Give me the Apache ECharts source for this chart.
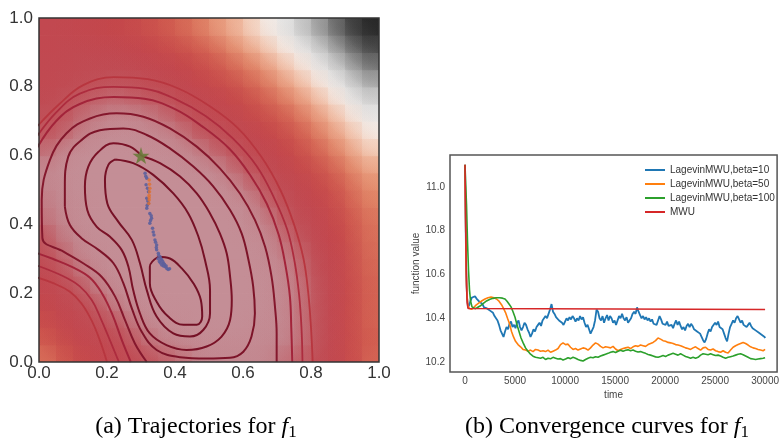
<!DOCTYPE html>
<html>
<head>
<meta charset="utf-8">
<script src="https://cdn.jsdelivr.net/npm/echarts@6/dist/echarts.min.js"></script>
<style>
html, body { margin: 0; padding: 0; background: #fff; }
#chart { width: 782px; height: 443px; }
</style>
</head>
<body>
<div id="chart"></div>
<script type="text/javascript">
// ---- left panel: level of f1 on a 20x20 grid (cell centres), rows from y=0.025 up to y=0.975
var cellCenters = [0.025, 0.075, 0.125, 0.175, 0.225, 0.275, 0.325, 0.375, 0.425, 0.475,
	0.525, 0.575, 0.625, 0.675, 0.725, 0.775, 0.825, 0.875, 0.925, 0.975];
var levelRows = [
	[4.4, 3.8, 3.2, 2.7, 2.3, 1.9, 1.6, 1.4, 1.2, 1.0, 0.9, 0.9, 0.9, 1.0, 1.2, 1.4, 1.9, 2.6, 3.3, 4.2],
	[3.8, 3.2, 2.7, 2.3, 1.9, 1.5, 1.2, 1.0, 0.8, 0.7, 0.7, 0.7, 0.7, 0.8, 1.0, 1.2, 1.8, 2.5, 3.3, 4.1],
	[3.3, 2.7, 2.3, 1.8, 1.5, 1.2, 0.9, 0.7, 0.6, 0.5, 0.4, 0.5, 0.6, 0.7, 0.9, 1.2, 1.8, 2.5, 3.3, 4.2],
	[2.8, 2.3, 1.9, 1.5, 1.1, 0.8, 0.6, 0.4, 0.3, 0.3, 0.3, 0.3, 0.5, 0.6, 0.9, 1.2, 1.8, 2.5, 3.3, 4.2],
	[2.4, 1.9, 1.5, 1.1, 0.8, 0.6, 0.4, 0.3, 0.2, 0.1, 0.2, 0.3, 0.4, 0.6, 0.9, 1.2, 1.8, 2.5, 3.3, 4.2],
	[2.0, 1.6, 1.2, 0.9, 0.6, 0.4, 0.2, 0.1, 0.1, 0.1, 0.1, 0.2, 0.4, 0.7, 0.9, 1.3, 1.9, 2.6, 3.4, 4.3],
	[1.7, 1.3, 1.0, 0.7, 0.4, 0.2, 0.1, 0.0, 0.0, 0.0, 0.1, 0.3, 0.5, 0.8, 1.1, 1.4, 2.0, 2.7, 3.5, 4.4],
	[1.5, 1.1, 0.8, 0.5, 0.3, 0.2, 0.1, 0.0, 0.0, 0.1, 0.2, 0.4, 0.6, 0.9, 1.3, 1.7, 2.2, 2.9, 3.7, 4.5],
	[1.2, 0.9, 0.6, 0.4, 0.2, 0.1, 0.1, 0.0, 0.1, 0.2, 0.3, 0.5, 0.8, 1.1, 1.5, 1.9, 2.4, 3.2, 3.9, 4.6],
	[1.1, 0.8, 0.6, 0.4, 0.2, 0.1, 0.1, 0.1, 0.2, 0.3, 0.5, 0.7, 1.0, 1.4, 1.8, 2.3, 2.8, 3.4, 4.2, 4.9],
	[1.0, 0.7, 0.5, 0.4, 0.3, 0.2, 0.2, 0.3, 0.4, 0.5, 0.7, 1.0, 1.3, 1.7, 2.1, 2.6, 3.2, 3.8, 4.5, 5.2],
	[1.0, 0.7, 0.5, 0.4, 0.3, 0.3, 0.4, 0.4, 0.6, 0.8, 1.0, 1.3, 1.7, 2.1, 2.6, 3.1, 3.7, 4.3, 5.0, 5.7],
	[1.3, 1.0, 0.6, 0.5, 0.5, 0.5, 0.6, 0.7, 0.9, 1.1, 1.4, 1.7, 2.1, 2.5, 3.0, 3.6, 4.2, 4.9, 5.6, 6.4],
	[1.6, 1.4, 1.1, 0.8, 0.7, 0.7, 0.8, 1.0, 1.2, 1.5, 1.8, 2.1, 2.5, 3.0, 3.5, 4.1, 4.8, 5.5, 6.2, 7.0],
	[1.8, 1.6, 1.3, 1.1, 1.0, 1.0, 1.1, 1.3, 1.6, 1.9, 2.2, 2.6, 3.1, 3.6, 4.1, 4.7, 5.4, 6.1, 6.9, 7.8],
	[2.0, 1.8, 1.6, 1.4, 1.3, 1.4, 1.5, 1.7, 2.0, 2.3, 2.7, 3.1, 3.6, 4.2, 4.8, 5.4, 6.1, 6.9, 7.7, 8.5],
	[2.2, 2.0, 1.9, 1.8, 1.7, 1.7, 1.9, 2.2, 2.5, 2.9, 3.3, 3.7, 4.3, 4.8, 5.5, 6.1, 6.9, 7.6, 8.5, 9.4],
	[2.3, 2.2, 2.1, 2.1, 2.1, 2.2, 2.4, 2.7, 3.0, 3.4, 3.9, 4.4, 4.9, 5.5, 6.2, 6.9, 7.7, 8.5, 9.4, 10.3],
	[2.4, 2.3, 2.3, 2.4, 2.5, 2.7, 2.9, 3.3, 3.6, 4.1, 4.5, 5.1, 5.7, 6.3, 7.0, 7.7, 8.5, 9.4, 10.3, 11.2],
	[2.5, 2.6, 2.7, 2.8, 3.0, 3.2, 3.5, 3.9, 4.3, 4.7, 5.3, 5.8, 6.4, 7.1, 7.8, 8.6, 9.4, 10.3, 11.3, 12.3]
];
var cellSize = 0.05;
// colour of the level field, one stop every 0.5 from 0 to 12
var levelColors = ['#c48e96', '#c48e96', '#c3868e', '#c0565e', '#c04a52', '#c24850', '#c4464a', '#ca504c',
	'#d05a4e', '#d9705a', '#e28868', '#e9a082', '#f0b89c', '#f4d4c2', '#f6ece6', '#ececec', '#e2e2e2',
	'#cccccc', '#b6b6b6', '#9a9a9a', '#7c7c7c', '#636363', '#4a4a4a', '#383838', '#262626'];

// contour lines (innermost first)
var contour1 = [[0.351,0.306],[0.385,0.301],[0.420,0.272],[0.454,0.229],[0.476,0.180],[0.480,0.132],[0.464,0.108],
	[0.425,0.108],[0.380,0.132],[0.346,0.175],[0.326,0.229],[0.326,0.277],[0.351,0.306]];
var contour2 = [[0.224,0.589],[0.277,0.578],[0.336,0.544],[0.395,0.490],[0.439,0.432],[0.469,0.364],[0.488,0.297],
	[0.503,0.209],[0.503,0.141],[0.483,0.093],[0.444,0.074],[0.395,0.083],[0.346,0.132],[0.317,0.209],[0.297,0.287],
	[0.273,0.355],[0.233,0.408],[0.201,0.461],[0.194,0.529],[0.204,0.573],[0.224,0.589]];
var contour3 = [[0.302,0.599],[0.356,0.578],[0.415,0.539],[0.464,0.490],[0.503,0.432],[0.532,0.374],[0.552,0.316],
	[0.562,0.248],[0.567,0.180],[0.562,0.122],[0.537,0.074],[0.493,0.045],[0.434,0.035],[0.375,0.049],[0.326,0.083],
	[0.297,0.141],[0.277,0.209],[0.263,0.277],[0.243,0.326],[0.209,0.364],[0.170,0.393],[0.142,0.442],[0.135,0.510],
	[0.145,0.568],[0.175,0.611],[0.219,0.636],[0.268,0.626],[0.302,0.599]];
var contour4 = [[0.076,0.452],[0.076,0.510],[0.086,0.597],[0.125,0.645],[0.179,0.674],[0.248,0.679],[0.317,0.660],
	[0.385,0.621],[0.454,0.568],[0.513,0.510],[0.562,0.442],[0.596,0.374],[0.616,0.297],[0.630,0.219],[0.635,0.141],
	[0.625,0.074],[0.601,0.030],[0.562,0.012],[0.493,0.010],[0.415,0.014],[0.346,0.035],[0.302,0.088],[0.273,0.156],
	[0.248,0.229],[0.219,0.287],[0.175,0.326],[0.125,0.360],[0.091,0.398],[0.076,0.452]];
var contour5 = [[0.317,0.0],[0.282,0.054],[0.253,0.122],[0.224,0.190],[0.184,0.248],[0.130,0.287],[0.072,0.321],
	[0.010,0.360],[0.008,0.471],[0.032,0.587],[0.081,0.665],[0.150,0.708],[0.228,0.723],[0.307,0.713],[0.385,0.679],
	[0.464,0.626],[0.532,0.563],[0.591,0.490],[0.635,0.413],[0.665,0.335],[0.684,0.248],[0.694,0.161],[0.699,0.083],
	[0.699,0.0]];
var contour6 = [[0.270,0.0],[0.245,0.060],[0.215,0.140],[0.185,0.200],[0.150,0.245],[0.100,0.275],[0.040,0.300],
	[-0.01,0.318]];
var contour6b = [[-0.01,0.615],[0.050,0.700],[0.120,0.750],[0.220,0.770],[0.310,0.765],[0.400,0.735],[0.480,0.685],
	[0.560,0.620],[0.620,0.545],[0.670,0.460],[0.705,0.370],[0.725,0.280],[0.738,0.190],[0.742,0.100],[0.745,0.0]];
var contour7 = [[0.235,0.0],[0.210,0.060],[0.180,0.130],[0.155,0.180],[0.120,0.220],[0.070,0.250],[-0.01,0.282]];
var contour7b = [[-0.01,0.650],[0.050,0.725],[0.120,0.780],[0.220,0.800],[0.310,0.795],[0.400,0.765],[0.490,0.715],
	[0.570,0.650],[0.640,0.570],[0.690,0.480],[0.730,0.385],[0.752,0.290],[0.765,0.195],[0.772,0.100],[0.775,0.0]];
var contour8 = [[0.200,0.0],[0.180,0.060],[0.155,0.120],[0.125,0.170],[0.090,0.205],[0.040,0.230],[-0.01,0.247]];
var contour8b = [[-0.01,0.680],[0.060,0.750],[0.130,0.805],[0.220,0.828],[0.320,0.822],[0.410,0.795],[0.500,0.745],
	[0.585,0.680],[0.655,0.595],[0.710,0.500],[0.750,0.400],[0.778,0.300],[0.792,0.200],[0.800,0.100],[0.805,0.0]];

var trailBeta10 = [[0.312,0.549],[0.317,0.534],[0.315,0.515],[0.322,0.495],[0.317,0.476],[0.322,0.461],[0.317,0.447],
	[0.326,0.432],[0.331,0.418],[0.326,0.403],[0.334,0.389],[0.338,0.369],[0.341,0.355],[0.346,0.340],[0.346,0.326],
	[0.351,0.316],[0.356,0.306],[0.361,0.297],[0.366,0.287],[0.371,0.277],[0.376,0.272],[0.354,0.292],[0.361,0.282],
	[0.380,0.269],[0.358,0.300],[0.364,0.292],[0.369,0.284],[0.374,0.279],[0.350,0.300],[0.357,0.288],[0.366,0.279],
	[0.384,0.271],[0.352,0.310],[0.345,0.333],[0.330,0.425],[0.320,0.468],[0.319,0.505],[0.314,0.540],[0.318,0.455],
	[0.328,0.411],[0.336,0.378],[0.343,0.348]];
var trailBeta50 = [[0.324,0.529],[0.326,0.505],[0.324,0.485],[0.324,0.471],[0.323,0.461],[0.325,0.495],[0.325,0.517],[0.324,0.478]];
var startPoint = [[0.300, 0.600]];

// ---- right panel: convergence curves [time, function value]
var beta10 = [[0,11.10],[60,10.85],[120,10.62],[200,10.50],[300,10.45],[420,10.46],[550,10.48],[700,10.495],[850,10.50],
	[1000,10.50],[1150,10.49],[1300,10.49],[1450,10.475],[1600,10.47],[1750,10.465],[1900,10.45],[2050,10.455],[2200,10.445],
	[2350,10.45],[2500,10.435],[2650,10.43],[2800,10.425],[2950,10.41],[3100,10.405],[3250,10.39],[3400,10.37],[3550,10.345],
	[3700,10.33],[3850,10.315],[4000,10.34],[4150,10.36],[4300,10.35],[4450,10.375],[4600,10.385],[4750,10.36],[4900,10.37],
	[5050,10.355],[5200,10.38],[5350,10.39],[5500,10.36],[5650,10.345],[5800,10.36],[5950,10.38],[6100,10.37],[6250,10.35],
	[6400,10.335],[6550,10.315],[6700,10.33],[6850,10.35],[7000,10.34],[7150,10.36],[7300,10.37],[7450,10.38],[7600,10.365],
	[7750,10.39],[7900,10.40],[8050,10.41],[8200,10.40],[8350,10.42],[8500,10.44],[8650,10.465],[8800,10.43],[8950,10.42],
	[9100,10.405],[9250,10.41],[9400,10.39],[9550,10.395],[9700,10.38],[9850,10.37],[10000,10.385],[10150,10.40],[10300,10.39],
	[10450,10.405],[10600,10.395],[10750,10.41],[10900,10.40],[11050,10.385],[11200,10.40],[11350,10.39],[11500,10.41],
	[11650,10.395],[11800,10.405],[11950,10.38],[12100,10.36],[12250,10.37],[12400,10.35],[12550,10.33],[12700,10.345],
	[12850,10.36],[13000,10.39],[13150,10.44],[13300,10.43],[13450,10.40],[13600,10.39],[13750,10.41],[13900,10.38],
	[14050,10.40],[14200,10.415],[14350,10.39],[14500,10.41],[14650,10.40],[14800,10.38],[14950,10.39],[15100,10.37],
	[15250,10.39],[15400,10.41],[15550,10.40],[15700,10.42],[15850,10.40],[16000,10.39],[16150,10.405],[16300,10.38],
	[16450,10.39],[16600,10.40],[16750,10.42],[16900,10.43],[17050,10.42],[17200,10.45],[17350,10.43],[17500,10.415],
	[17650,10.40],[17800,10.41],[17950,10.395],[18100,10.405],[18250,10.39],[18400,10.40],[18550,10.385],[18700,10.395],
	[18850,10.375],[19000,10.38],[19150,10.37],[19300,10.39],[19450,10.41],[19600,10.395],[19750,10.375],[19900,10.38],
	[20050,10.37],[20200,10.385],[20350,10.365],[20500,10.36],[20650,10.37],[20800,10.355],[20950,10.375],[21100,10.39],
	[21250,10.37],[21400,10.385],[21550,10.365],[21700,10.35],[21850,10.36],[22000,10.345],[22150,10.365],[22300,10.375],
	[22450,10.36],[22600,10.375],[22750,10.365],[22900,10.35],[23050,10.355],[23200,10.34],[23350,10.335],[23500,10.33],
	[23650,10.315],[23800,10.30],[23950,10.29],[24100,10.305],[24250,10.33],[24400,10.35],[24550,10.34],[24700,10.36],
	[24850,10.365],[25000,10.38],[25150,10.37],[25300,10.385],[25450,10.36],[25600,10.355],[25750,10.35],[25900,10.33],
	[26050,10.31],[26200,10.295],[26350,10.33],[26500,10.36],[26650,10.375],[26800,10.39],[26950,10.38],[27100,10.40],
	[27250,10.41],[27400,10.395],[27550,10.38],[27700,10.39],[27850,10.37],[28000,10.375],[28150,10.36],[28300,10.37],
	[28450,10.38],[28600,10.365],[28750,10.355],[28900,10.36],[29050,10.345],[29200,10.35],[29350,10.335],[29500,10.34],
	[29650,10.325],[29800,10.33],[29950,10.315],[30000,10.31]];
var beta50 = [[0,11.10],[60,10.85],[120,10.62],[200,10.50],[300,10.455],[450,10.445],[650,10.441],[850,10.448],[1100,10.46],
	[1400,10.47],[1700,10.48],[2000,10.488],[2300,10.494],[2600,10.497],[2900,10.494],[3150,10.488],[3400,10.478],[3650,10.462],
	[3850,10.445],[4050,10.426],[4250,10.40],[4450,10.375],[4650,10.34],[4850,10.315],[5050,10.295],[5300,10.28],[5550,10.27],
	[5800,10.258],[6050,10.255],[6300,10.25],[6550,10.255],[6800,10.248],[7050,10.258],[7300,10.255],[7550,10.25],[7800,10.252],
	[8050,10.248],[8300,10.255],[8550,10.245],[8800,10.25],[9050,10.255],[9300,10.262],[9550,10.28],[9800,10.288],[10050,10.28],
	[10300,10.282],[10550,10.268],[10800,10.258],[11050,10.262],[11300,10.255],[11550,10.26],[11800,10.265],[12050,10.262],
	[12300,10.255],[12550,10.265],[12800,10.278],[13050,10.288],[13300,10.282],[13550,10.272],[13800,10.265],[14050,10.27],
	[14300,10.268],[14550,10.265],[14800,10.272],[15050,10.26],[15300,10.252],[15550,10.258],[15800,10.262],[16050,10.265],
	[16300,10.268],[16550,10.262],[16800,10.27],[17050,10.275],[17300,10.272],[17550,10.278],[17800,10.275],[18050,10.272],
	[18300,10.28],[18550,10.285],[18800,10.29],[19050,10.298],[19300,10.31],[19550,10.305],[19800,10.298],[20050,10.295],
	[20300,10.29],[20550,10.288],[20800,10.285],[21050,10.28],[21300,10.278],[21550,10.275],[21800,10.27],[22050,10.265],
	[22300,10.262],[22550,10.258],[22800,10.265],[23050,10.27],[23300,10.262],[23550,10.255],[23800,10.265],[24050,10.268],
	[24300,10.258],[24550,10.255],[24800,10.26],[25050,10.252],[25300,10.248],[25550,10.245],[25800,10.252],[26050,10.245],
	[26300,10.242],[26550,10.255],[26800,10.268],[27050,10.275],[27300,10.28],[27550,10.285],[27800,10.29],[28050,10.285],
	[28300,10.278],[28550,10.27],[28800,10.265],[29050,10.262],[29300,10.258],[29550,10.255],[29800,10.252],[30000,10.258]];
var beta100 = [[0,11.10],[80,11.0],[150,10.92],[250,10.75],[350,10.62],[450,10.53],[550,10.48],[700,10.452],[850,10.445],
	[1000,10.444],[1200,10.448],[1500,10.456],[1800,10.467],[2150,10.479],[2500,10.487],[2800,10.491],[3100,10.494],[3450,10.494],
	[3750,10.492],[4000,10.488],[4200,10.478],[4400,10.465],[4600,10.452],[4800,10.43],[5000,10.405],[5200,10.37],[5400,10.34],
	[5600,10.31],[5800,10.289],[6050,10.265],[6300,10.25],[6550,10.236],[6800,10.227],[7050,10.222],[7300,10.22],[7550,10.218],
	[7800,10.222],[8050,10.212],[8300,10.218],[8550,10.215],[8800,10.222],[9050,10.218],[9300,10.214],[9550,10.216],[9800,10.21],
	[10050,10.214],[10300,10.22],[10550,10.216],[10800,10.222],[11050,10.218],[11300,10.212],[11550,10.208],[11800,10.205],
	[12050,10.212],[12300,10.218],[12550,10.222],[12800,10.22],[13050,10.225],[13300,10.222],[13550,10.228],[13800,10.232],
	[14050,10.236],[14300,10.24],[14550,10.245],[14800,10.248],[15050,10.244],[15300,10.25],[15550,10.254],[15800,10.25],
	[16050,10.254],[16300,10.256],[16550,10.252],[16800,10.255],[17050,10.25],[17300,10.246],[17550,10.248],[17800,10.244],
	[18050,10.24],[18300,10.235],[18550,10.232],[18800,10.228],[19050,10.224],[19300,10.222],[19550,10.226],[19800,10.23],
	[20050,10.226],[20300,10.232],[20550,10.236],[20800,10.24],[21050,10.236],[21300,10.232],[21550,10.238],[21800,10.232],
	[22050,10.226],[22300,10.222],[22550,10.218],[22800,10.222],[23050,10.218],[23300,10.222],[23550,10.232],[23800,10.238],
	[24050,10.236],[24300,10.234],[24550,10.238],[24800,10.234],[25050,10.23],[25300,10.232],[25550,10.228],[25800,10.222],
	[26050,10.218],[26300,10.222],[26550,10.225],[26800,10.228],[27050,10.232],[27300,10.236],[27550,10.238],[27800,10.234],
	[28050,10.228],[28300,10.222],[28550,10.216],[28800,10.214],[29050,10.212],[29300,10.214],[29550,10.216],[29800,10.218],
	[30000,10.22]];
var mwu = [[0,11.10],[50,10.90],[100,10.70],[150,10.55],[220,10.47],[300,10.445],[450,10.44],[30000,10.44]];
var seriesNames = ['LagevinMWU,beta=10', 'LagevinMWU,beta=50', 'LagevinMWU,beta=100', 'MWU'];
var seriesColors = ['#1f77b4', '#ff7f0e', '#2ca02c', '#d62728'];

var cells = [];
for (var j = 0; j < levelRows.length; j++) {
	for (var i = 0; i < levelRows[j].length; i++) {
		cells.push([cellCenters[i], cellCenters[j], levelRows[j][i]]);
	}
}

function contourSeries(data, color, width) {
	return {
		type: 'line', xAxisIndex: 0, yAxisIndex: 0, data: data, smooth: 0.4,
		showSymbol: false, silent: true, clip: true, z: 3,
		lineStyle: {color: color, width: width || 2}
	};
}

// flat cell
function renderCell(params, api) {
	var x = api.value(0), y = api.value(1);
	var p0 = api.coord([x - cellSize / 2, y + cellSize / 2]);
	var p1 = api.coord([x + cellSize / 2, y - cellSize / 2]);
	return {
		type: 'rect',
		shape: {x: p0[0], y: p0[1], width: p1[0] - p0[0] + 0.6, height: p1[1] - p0[1] + 0.6},
		style: {fill: api.visual('color')}
	};
}

// soft splat on top of the cells, so the blocks blend into each other
function renderSplat(params, api) {
	var c = api.coord([api.value(0), api.value(1)]);
	var r = api.size([cellSize, cellSize])[0] * 1.6;
	var col = api.visual('color');
	return {
		type: 'circle',
		shape: {cx: c[0], cy: c[1], r: r},
		style: {fill: new echarts.graphic.RadialGradient(0.5, 0.5, 0.5, [
			{offset: 0, color: echarts.color.modifyAlpha(col, 0.5)},
			{offset: 0.5, color: echarts.color.modifyAlpha(col, 0.25)},
			{offset: 1, color: echarts.color.modifyAlpha(col, 0)}
		])}
	};
}

var labelFont = 'Liberation Sans';
var captionRich = {
	n: {fontFamily: 'Liberation Serif', fontSize: 24, color: '#111', lineHeight: 28},
	f: {fontFamily: 'Liberation Serif', fontStyle: 'italic', fontSize: 24, color: '#111', lineHeight: 28},
	s: {fontFamily: 'Liberation Serif', fontSize: 17, color: '#111', lineHeight: 17, verticalAlign: 'bottom'}
};
var option = {
	animation: false,
	backgroundColor: '#fff',
	grid: [
		{left: 39, top: 18, width: 340, height: 344, show: true, z: 10, backgroundColor: 'transparent', borderColor: '#333', borderWidth: 1.5},
		{left: 450, top: 155, width: 328, height: 217, show: true, z: 10, backgroundColor: 'transparent', borderColor: '#555', borderWidth: 1.5}
	],
	visualMap: {
		show: false, type: 'continuous', seriesIndex: [0, 1], dimension: 2, min: 0, max: 12,
		inRange: {color: levelColors}
	},
	xAxis: [
		{gridIndex: 0, type: 'value', min: 0, max: 1, interval: 0.2,
			axisLine: {show: false}, axisTick: {show: false}, splitLine: {show: false},
			axisLabel: {fontFamily: labelFont, fontSize: 17, color: '#333', margin: 3,
				formatter: function (v) { return v.toFixed(1); }}},
		{gridIndex: 1, type: 'value', min: -1500, max: 31200,
			name: 'time', nameLocation: 'middle', nameGap: 18,
			nameTextStyle: {fontFamily: labelFont, fontSize: 10, color: '#444'},
			axisLine: {show: false}, axisTick: {show: false}, splitLine: {show: false},
			axisLabel: {fontFamily: labelFont, fontSize: 10, color: '#444', margin: 4, showMinLabel: false, showMaxLabel: false,
				formatter: function (v) { return String(v); }}}
	],
	yAxis: [
		{gridIndex: 0, type: 'value', min: 0, max: 1, interval: 0.2,
			axisLine: {show: false}, axisTick: {show: false}, splitLine: {show: false},
			axisLabel: {fontFamily: labelFont, fontSize: 17, color: '#333', margin: 6,
				formatter: function (v) { return v.toFixed(1); }}},
		{gridIndex: 1, type: 'value', min: 10.155, max: 11.145,
			name: 'function value', nameLocation: 'middle', nameGap: 27,
			nameTextStyle: {fontFamily: labelFont, fontSize: 10, color: '#444'},
			axisLine: {show: false}, axisTick: {show: false}, splitLine: {show: false},
			axisLabel: {fontFamily: labelFont, fontSize: 10, color: '#444', margin: 5, showMinLabel: false, showMaxLabel: false,
				formatter: function (v) { return v.toFixed(1); }}}
	],
	legend: {
		left: 640, top: 159, orient: 'vertical', icon: 'rect', itemWidth: 20, itemHeight: 2, itemGap: 2,
		data: seriesNames,
		textStyle: {fontFamily: labelFont, fontSize: 10, color: '#333', lineHeight: 12}
	},
	graphic: [
		{type: 'text', x: 196, y: 427, style: {
			text: '{n|(a) Trajectories for }{f|f}{s|1}', align: 'center', verticalAlign: 'middle', rich: captionRich}},
		{type: 'text', x: 607, y: 427, style: {
			text: '{n|(b) Convergence curves for }{f|f}{s|1}', align: 'center', verticalAlign: 'middle', rich: captionRich}}
	],
	series: [
		{type: 'custom', xAxisIndex: 0, yAxisIndex: 0, data: cells, silent: true, clip: true, z: 1, renderItem: renderCell},
		{type: 'custom', xAxisIndex: 0, yAxisIndex: 0, data: cells, silent: true, clip: true, z: 1.5, renderItem: renderSplat},
		contourSeries(contour8, '#b8363f', 1.8),
		contourSeries(contour8b, '#b8363f', 1.8),
		contourSeries(contour7, '#ad2c3e', 1.8),
		contourSeries(contour7b, '#ad2c3e', 1.8),
		contourSeries(contour6, '#a3243a'),
		contourSeries(contour6b, '#a3243a'),
		contourSeries(contour5, '#85182d'),
		contourSeries(contour4, '#7d1429'),
		contourSeries(contour3, '#7a1227'),
		contourSeries(contour2, '#761126'),
		contourSeries(contour1, '#731025'),
		{type: 'scatter', xAxisIndex: 0, yAxisIndex: 0, data: trailBeta10, symbolSize: 3.5, silent: true, z: 4,
			itemStyle: {color: '#5c5f9c', opacity: 0.9}},
		{type: 'scatter', xAxisIndex: 0, yAxisIndex: 0, data: trailBeta50, symbolSize: 3.5, silent: true, z: 5,
			itemStyle: {color: '#e0702e'}},
		{type: 'scatter', xAxisIndex: 0, yAxisIndex: 0, data: startPoint, silent: true, z: 6,
			symbol: 'path://M50,0 L61,35 L98,35 L68,57 L79,91 L50,70 L21,91 L32,57 L2,35 L39,35 Z', symbolSize: 17,
			itemStyle: {color: '#6a7a3a', opacity: 0.9}},
		{name: seriesNames[0], type: 'line', xAxisIndex: 1, yAxisIndex: 1, data: beta10, showSymbol: false,
			color: seriesColors[0], lineStyle: {width: 1.8}},
		{name: seriesNames[1], type: 'line', xAxisIndex: 1, yAxisIndex: 1, data: beta50, showSymbol: false,
			color: seriesColors[1], lineStyle: {width: 1.6}},
		{name: seriesNames[2], type: 'line', xAxisIndex: 1, yAxisIndex: 1, data: beta100, showSymbol: false,
			color: seriesColors[2], lineStyle: {width: 1.6}},
		{name: seriesNames[3], type: 'line', xAxisIndex: 1, yAxisIndex: 1, data: mwu, showSymbol: false,
			color: seriesColors[3], lineStyle: {width: 1.6}}
	]
};

var myChart = echarts.init(document.getElementById('chart'), null, {renderer: 'canvas'});
myChart.setOption(option);
</script>
</body>
</html>
